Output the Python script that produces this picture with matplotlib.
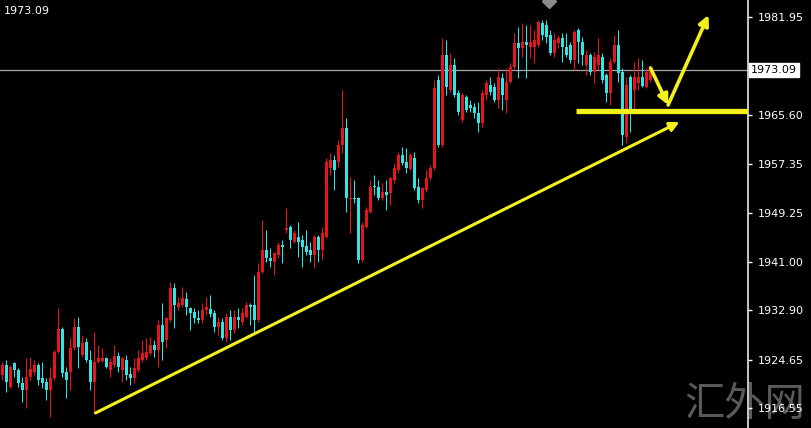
import matplotlib
matplotlib.use("Agg")
import matplotlib.pyplot as plt
import matplotlib.transforms as mtransforms

# candle data, oldest first
opens = [1922.10, 1923.77, 1920.09, 1924.11, 1922.94, 1920.76, 1919.59, 1921.77, 1922.60, 1923.77,
         1921.60, 1920.93, 1919.59, 1921.60, 1925.95, 1929.79, 1922.60, 1922.60, 1926.61, 1930.13,
         1925.44, 1927.62, 1924.61, 1920.93, 1924.27, 1924.44, 1924.94, 1922.94, 1923.77, 1925.28,
         1922.94, 1924.61, 1922.27, 1921.60, 1922.94, 1924.61, 1924.94, 1925.78, 1927.12, 1926.28,
         1930.46, 1927.95, 1931.30, 1936.65, 1933.47, 1933.80, 1934.81, 1933.30, 1932.63, 1931.63,
         1931.30, 1932.97, 1933.14, 1932.47, 1930.13, 1930.96, 1928.29, 1931.80, 1929.62, 1931.80,
         1930.96, 1931.80, 1933.80, 1933.80, 1931.30, 1939.32, 1943.00, 1941.66, 1940.99, 1942.16,
         1943.84, 1946.34, 1946.85, 1944.34, 1945.17, 1944.67, 1943.67, 1943.00, 1942.16, 1945.17,
         1943.00, 1945.17, 1956.71, 1958.05, 1957.71, 1960.56, 1963.40, 1951.53, 1951.69, 1951.69,
         1941.33, 1946.85, 1949.35, 1953.70, 1953.53, 1951.69, 1952.70, 1952.53, 1954.70, 1956.38,
         1958.88, 1957.71, 1956.54, 1958.38, 1953.53, 1951.36, 1953.03, 1955.04, 1956.71, 1971.42,
         1960.56, 1975.60, 1969.75, 1973.93, 1969.25, 1964.74, 1968.58, 1967.24, 1966.91, 1965.91,
         1964.23, 1968.92, 1970.59, 1970.25, 1968.08, 1971.76, 1968.08, 1971.09, 1973.60, 1977.61,
         1976.77, 1977.78, 1976.94, 1976.94, 1977.28, 1980.95, 1980.62, 1978.95, 1975.94, 1977.61,
         1978.45, 1976.94, 1977.28, 1974.77, 1979.78, 1977.78, 1973.93, 1975.60, 1972.76, 1973.93,
         1975.27, 1972.26, 1969.25, 1974.43, 1977.28, 1972.76, 1961.89, 1971.93, 1969.75, 1970.92,
         1971.93, 1970.25, 1971.42]
highs = [1924.27, 1924.61, 1923.77, 1924.27, 1923.27, 1921.77, 1924.94, 1925.11, 1924.61, 1924.11,
         1924.27, 1921.60, 1923.44, 1926.28, 1933.30, 1930.13, 1923.44, 1928.29, 1931.63, 1931.80,
         1928.79, 1928.29, 1926.28, 1929.29, 1927.12, 1926.61, 1925.11, 1924.94, 1927.12, 1925.95,
         1925.11, 1925.44, 1923.44, 1924.94, 1926.28, 1927.95, 1928.29, 1928.45, 1927.95, 1931.30,
         1934.14, 1931.80, 1937.65, 1937.48, 1935.14, 1936.81, 1935.98, 1933.47, 1933.30, 1932.97,
         1934.14, 1935.14, 1935.48, 1932.97, 1931.80, 1931.63, 1932.47, 1932.97, 1932.97, 1933.30,
         1933.30, 1934.31, 1934.14, 1938.82, 1940.83, 1948.02, 1946.34, 1943.33, 1942.67, 1944.34,
         1944.67, 1950.02, 1947.18, 1946.34, 1947.68, 1945.51, 1946.34, 1944.34, 1945.51, 1945.51,
         1946.85, 1958.38, 1959.22, 1958.88, 1961.39, 1969.75, 1965.07, 1955.21, 1954.70, 1951.86,
         1947.68, 1950.19, 1954.70, 1955.54, 1954.70, 1954.20, 1954.70, 1955.21, 1957.55, 1959.39,
         1960.22, 1960.05, 1959.22, 1959.39, 1955.04, 1953.53, 1956.38, 1957.21, 1971.42, 1972.26,
         1978.45, 1978.11, 1975.94, 1975.10, 1969.75, 1969.25, 1968.92, 1968.08, 1967.58, 1967.75,
         1969.75, 1971.42, 1971.93, 1970.92, 1973.43, 1972.59, 1973.43, 1974.27, 1979.28, 1980.29,
         1980.95, 1980.62, 1980.62, 1979.78, 1981.46, 1981.46, 1981.46, 1979.78, 1979.28, 1978.95,
         1979.28, 1979.28, 1977.78, 1979.78, 1980.12, 1978.61, 1976.44, 1975.94, 1976.11, 1978.45,
         1975.94, 1972.59, 1975.10, 1978.95, 1979.78, 1973.43, 1971.93, 1972.26, 1974.43, 1975.10,
         1974.77, 1973.43, 1973.60]
lows = [1921.26, 1919.26, 1919.93, 1921.77, 1920.09, 1917.59, 1916.58, 1921.26, 1922.10, 1920.43,
        1919.93, 1917.92, 1915.08, 1921.26, 1925.78, 1921.77, 1918.25, 1919.59, 1926.28, 1923.27,
        1925.11, 1924.27, 1919.59, 1915.75, 1924.11, 1924.27, 1923.27, 1921.77, 1923.44, 1922.60,
        1920.93, 1921.26, 1920.43, 1920.76, 1922.60, 1924.27, 1924.61, 1925.44, 1925.11, 1923.44,
        1924.61, 1926.61, 1930.96, 1929.96, 1932.97, 1933.47, 1932.13, 1929.62, 1930.79, 1930.79,
        1930.79, 1932.13, 1931.80, 1929.29, 1928.79, 1927.95, 1927.62, 1927.95, 1929.12, 1929.96,
        1930.46, 1931.63, 1930.46, 1929.12, 1930.96, 1939.15, 1940.99, 1940.16, 1938.82, 1941.66,
        1940.83, 1945.84, 1943.33, 1944.17, 1941.83, 1940.16, 1942.16, 1940.99, 1939.99, 1940.99,
        1941.33, 1945.01, 1955.54, 1953.03, 1956.88, 1959.22, 1949.35, 1945.84, 1950.86, 1940.83,
        1940.99, 1946.68, 1949.19, 1952.20, 1951.36, 1951.36, 1949.69, 1950.52, 1954.20, 1955.87,
        1957.21, 1955.87, 1956.38, 1953.03, 1950.86, 1950.02, 1952.70, 1954.70, 1956.38, 1960.22,
        1960.22, 1968.92, 1969.42, 1968.58, 1965.57, 1964.40, 1966.07, 1966.07, 1965.07, 1962.73,
        1963.57, 1968.08, 1968.92, 1967.75, 1966.74, 1966.41, 1965.91, 1970.92, 1973.10, 1971.76,
        1975.27, 1971.76, 1975.10, 1974.27, 1976.94, 1978.11, 1977.61, 1975.60, 1975.27, 1976.77,
        1974.43, 1975.27, 1974.27, 1973.10, 1974.27, 1973.93, 1972.26, 1972.26, 1970.92, 1973.10,
        1970.92, 1967.75, 1967.24, 1974.27, 1971.09, 1960.56, 1960.89, 1962.73, 1966.41, 1969.75,
        1970.25, 1970.09, 1971.09]
closes = [1923.77, 1920.93, 1923.44, 1922.94, 1920.76, 1919.59, 1921.77, 1923.10, 1923.77, 1921.26,
          1920.76, 1919.59, 1921.60, 1925.95, 1929.79, 1922.43, 1921.26, 1926.61, 1930.13, 1926.78,
          1927.45, 1924.61, 1920.93, 1924.27, 1924.94, 1924.94, 1923.44, 1924.27, 1925.28, 1923.44,
          1924.94, 1922.10, 1921.60, 1923.27, 1924.94, 1925.78, 1925.95, 1927.12, 1926.28, 1930.46,
          1927.62, 1931.63, 1936.65, 1933.80, 1934.14, 1934.97, 1933.47, 1932.47, 1931.63, 1931.30,
          1932.97, 1933.47, 1932.30, 1930.13, 1930.96, 1928.29, 1931.80, 1929.62, 1931.80, 1931.30,
          1932.47, 1933.80, 1933.47, 1931.30, 1939.32, 1943.00, 1941.66, 1941.16, 1942.50, 1943.84,
          1943.50, 1946.68, 1944.67, 1945.84, 1944.34, 1943.50, 1942.67, 1942.16, 1945.17, 1943.00,
          1945.84, 1957.71, 1958.05, 1956.38, 1960.56, 1963.40, 1951.69, 1951.69, 1951.53, 1941.33,
          1947.18, 1949.69, 1953.53, 1953.53, 1951.69, 1952.70, 1952.20, 1955.04, 1956.71, 1958.88,
          1957.55, 1956.71, 1958.88, 1953.37, 1951.36, 1953.37, 1955.04, 1956.71, 1970.09, 1960.56,
          1975.60, 1970.25, 1973.93, 1968.92, 1966.07, 1968.92, 1966.41, 1966.74, 1965.91, 1964.23,
          1969.25, 1970.92, 1969.42, 1968.08, 1971.93, 1968.92, 1971.09, 1973.60, 1977.61, 1976.77,
          1977.78, 1977.28, 1977.78, 1978.11, 1981.12, 1978.95, 1978.61, 1975.94, 1978.11, 1978.45,
          1976.94, 1975.60, 1974.77, 1979.45, 1977.78, 1975.60, 1975.60, 1972.76, 1975.27, 1975.60,
          1971.42, 1969.25, 1974.43, 1977.28, 1972.59, 1962.23, 1970.59, 1966.41, 1971.93, 1971.93,
          1970.42, 1972.76, 1973.09]

price_ticks = [1981.95, 1965.60, 1957.35, 1949.25, 1941.00, 1932.90, 1924.65, 1916.55]
last_price = 1973.09

# hand drawn annotations (bar index, price)
trend_start = (23.25, 1915.75)
trend_end = (169.25, 1964.40)
support_price = 1966.3
support_from = 143.5
zigzag = [(162.0, 1973.43), (166.4, 1967.24), (176.5, 1982.29)]

UP = "#e8141c"
DOWN = "#2ee6e6"
YELLOW = "#f4f01a"

fig = plt.figure(figsize=(8.12, 4.28), dpi=100, facecolor="black")
ax = fig.add_axes([0, 0, 748 / 812, 1])
ax.set_facecolor("none")

# watermark sits behind the candles
fig.text(0.991, 0.006, "汇外网", color="#5a5a5a", fontsize=29, ha="right", va="bottom",
         family=["Noto Sans CJK SC", "DejaVu Sans"], zorder=-5)

n = len(opens)
xs = list(range(n))
for i in xs:
    o, h, l, c = opens[i], highs[i], lows[i], closes[i]
    col = UP if c >= o else DOWN
    ax.vlines(i, l, h, color=col, lw=0.72, zorder=2)
    body = max(abs(c - o), 0.17)
    ax.bar(i, body, bottom=min(o, c), width=0.75, color=col, linewidth=0, zorder=3)

# 4 px per bar, bar centres on pixel centres
ax.set_xlim(-0.625, 186.375)
ax.set_ylim(1913.24, 1984.79)

# current price line
ax.axhline(last_price, color="#a8a8a8", lw=0.9, zorder=1)

# yellow drawings
ax.annotate("", xy=trend_end, xytext=trend_start,
            arrowprops=dict(arrowstyle="-|>", color=YELLOW, lw=2.2, mutation_scale=14,
                            shrinkA=0, shrinkB=0), zorder=5)
ax.hlines(support_price, support_from, 186.375, color=YELLOW, lw=3.8, zorder=5)
for a, b in zip(zigzag[:-1], zigzag[1:]):
    ax.annotate("", xy=b, xytext=a,
                arrowprops=dict(arrowstyle="-|>", color=YELLOW, lw=2.6, mutation_scale=15,
                                shrinkA=0, shrinkB=0), zorder=5)

# small marker at the top edge
ax.plot([136.75], [1984.6], marker="D", color="#8c8c8c", markersize=7, clip_on=True, zorder=4)

# price scale on the right
for s in ["top", "left", "bottom"]:
    ax.spines[s].set_visible(False)
ax.spines["right"].set_color("#e8e8e8")
ax.spines["right"].set_linewidth(1.2)
ax.set_xticks([])
ax.yaxis.tick_right()
ax.set_yticks(price_ticks)
ax.set_yticklabels(["%.2f" % p for p in price_ticks])
ax.tick_params(axis="y", colors="white", labelcolor="white", length=3, width=1,
               labelsize=8, pad=4)

trans = mtransforms.blended_transform_factory(ax.transAxes, ax.transData)
ax.text(1.004, last_price, "%.2f" % last_price, transform=trans, color="black",
        fontsize=8, va="center", ha="left",
        bbox=dict(boxstyle="square,pad=0.22", facecolor="white", edgecolor="white"))

ax.text(0.005, 0.985, "%.2f" % last_price, transform=ax.transAxes, color="white",
        fontsize=8, va="top", ha="left")

fig.savefig("out.png", dpi=100, facecolor="black")
